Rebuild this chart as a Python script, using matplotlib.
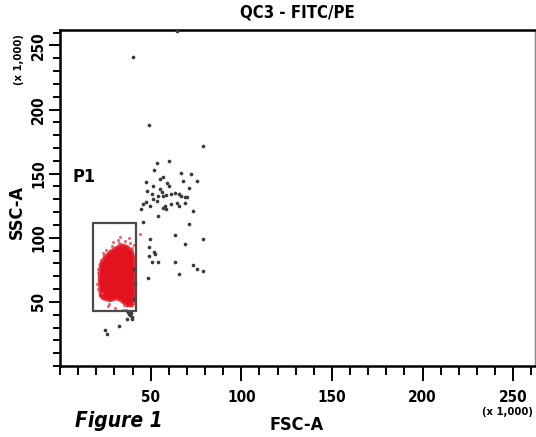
import matplotlib
matplotlib.use("Agg")
import matplotlib.pyplot as plt
from matplotlib.patches import Rectangle, Polygon
from matplotlib.ticker import MultipleLocator

plt.rcParams['font.family'] = ['DejaVu Sans']
plt.rcParams['font.stretch'] = 'condensed'
plt.rcParams['font.weight'] = 'bold'

# events outside P1 (FSC-A, SSC-A in x 1,000)
black_x = [40.1, 64.3, 48.9, 78.6, 53.3, 59.9, 51.6, 67.0, 72.5, 47.3, 54.9, 56.6, 67.6, 75.3,
           51.1, 58.8, 59.9, 70.9, 47.8, 50.5, 54.9, 56.0, 53.8, 56.6, 58.2, 61.0, 63.2, 65.9,
           67.0, 68.7, 69.8, 45.6, 47.3, 49.5, 51.1, 53.3, 57.7, 56.6, 58.2, 61.5, 64.3, 65.4,
           68.7, 73.1, 44.5, 53.8, 45.6, 70.9, 49.5, 63.7, 68.7, 78.6, 48.9, 51.6, 52.2, 48.9,
           50.5, 53.8, 63.7, 73.1, 75.8, 78.6, 65.9, 48.4, 37.4, 38.5, 39.6, 36.8, 39.0, 32.4,
           24.7, 25.8, 40.7, 41.2, 40.7, 38.0, 39.8]
black_y = [241.2, 261.0, 188.3, 171.2, 158.0, 159.5, 152.5, 150.2, 149.4, 143.2, 145.5, 147.1,
           144.0, 144.0, 140.1, 142.4, 140.1, 138.5, 136.2, 133.9, 137.7, 135.4, 132.3, 132.3,
           133.1, 133.9, 134.6, 133.9, 132.3, 131.5, 131.5, 126.1, 127.6, 124.5, 130.0, 128.4,
           124.5, 123.0, 122.2, 126.1, 126.8, 124.5, 126.8, 120.6, 122.2, 116.7, 112.1, 110.5,
           98.8, 101.9, 94.9, 98.8, 92.6, 88.7, 87.2, 85.6, 80.9, 80.9, 80.9, 78.6, 75.5, 73.9,
           71.6, 68.5, 42.0, 39.7, 38.1, 36.6, 41.2, 31.1, 28.0, 24.9, 75.5, 63.8, 52.1, 40.5, 37.0]

# dense P1 population outline
p1_outline_x = [22.0, 21.4, 22.0, 24.2, 27.5, 30.8, 34.1, 37.4, 40.1, 41.2, 41.2, 41.2,
                40.1, 36.8, 33.5, 31.3, 27.5, 23.6]
p1_outline_y = [54.5, 67.7, 79.4, 84.8, 89.5, 92.6, 94.9, 93.4, 89.5, 83.3, 67.7, 52.1,
                46.7, 46.7, 50.6, 52.1, 50.6, 52.1]

# scattered P1 events around the dense core
red_x = [44.0, 26.4, 29.0, 31.9, 35.7, 33.0, 23.6, 38.5, 25.3, 39.6, 20.9, 21.2, 22.5, 36.3,
         30.2, 27.0, 34.6, 40.6, 20.6, 23.0, 38.0, 32.5, 28.6, 37.0, 24.5, 41.0, 21.0, 35.2]
red_y = [102.7, 46.7, 97.0, 98.5, 97.8, 100.5, 88.0, 96.2, 90.5, 91.8, 60.0, 72.5, 83.0, 44.0,
         45.5, 48.5, 43.5, 49.0, 64.0, 57.0, 99.5, 95.8, 93.8, 42.5, 86.5, 94.5, 76.0, 47.8]

gate_x0, gate_y0, gate_x1, gate_y1 = 18.1, 42.8, 41.8, 111.3

W, H = 536, 437
fig = plt.figure(figsize=(W / 100, H / 100), dpi=100)
ax = fig.add_axes([60 / W, (H - 366) / H, 475 / W, 336 / H])

ax.add_patch(Polygon(list(zip(p1_outline_x, p1_outline_y)), closed=True,
                     facecolor='#e2121f', edgecolor='#e8303c', lw=1.5, zorder=2))
ax.scatter(red_x, red_y, s=5, color='#e8404a', alpha=0.8, lw=0, zorder=2)
ax.scatter(black_x, black_y, s=7, color='#3a3a3a', lw=0, zorder=3)
ax.add_patch(Rectangle((gate_x0, gate_y0), gate_x1 - gate_x0, gate_y1 - gate_y0,
                       fill=False, edgecolor='#4a4a4a', lw=1.6, zorder=4))
ax.text(13.2, 147, 'P1', fontsize=13, fontweight='bold', ha='center', va='center')

ax.set_xlim(0, 262)
ax.set_ylim(0, 262)
ax.xaxis.set_minor_locator(MultipleLocator(10))
ax.yaxis.set_minor_locator(MultipleLocator(10))
ax.set_xticks([50, 100, 150, 200, 250])
ax.set_yticks([50, 100, 150, 200, 250])
ax.tick_params(axis='x', which='major', length=11, width=1.4, labelsize=11, pad=6)
ax.tick_params(axis='x', which='minor', length=6.5, width=1.4)
ax.tick_params(axis='y', which='major', length=8, width=1.4, labelsize=11, pad=2)
ax.tick_params(axis='y', which='minor', length=5, width=1.4)
ax.tick_params(axis='y', labelrotation=90)
for lab in ax.get_yticklabels():
    lab.set_va('center')
for s in ax.spines.values():
    s.set_linewidth(1.8)
ax.spines['right'].set_linewidth(1.0)
ax.spines['right'].set_color('#888888')

fig.text(297 / W, 1 - 13 / H, 'QC3 - FITC/PE', fontsize=12, ha='center', va='center')
fig.text(297 / W, 1 - 425 / H, 'FSC-A', fontsize=13, ha='center', va='center')
fig.text(507 / W, 1 - 412 / H, '(x 1,000)', fontsize=8, ha='center', va='center')
fig.text(17 / W, 1 - 212 / H, 'SSC-A', fontsize=13, ha='center', va='center', rotation=90)
fig.text(19 / W, 1 - 60 / H, '(x 1,000)', fontsize=8, ha='center', va='center', rotation=90)
fig.text(119 / W, 1 - 421 / H, 'Figure 1', fontsize=15, style='italic', ha='center', va='center')

fig.savefig('out.png', dpi=100)
